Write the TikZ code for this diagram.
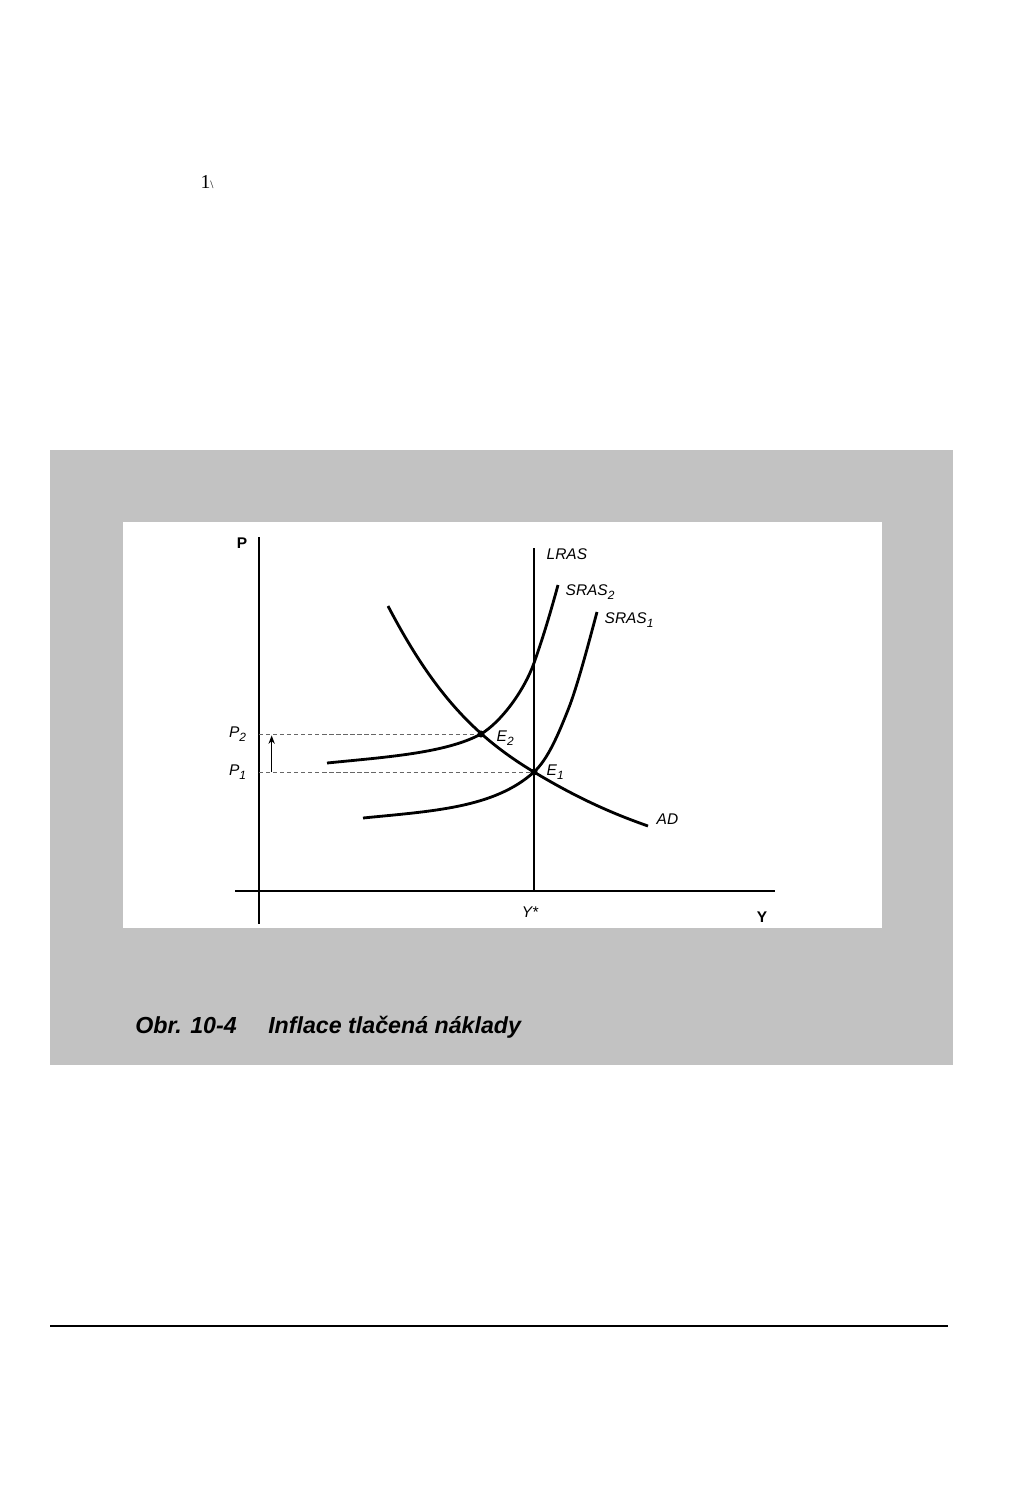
\documentclass[tikz,border=0pt]{standalone}
\usepackage{fontspec}
\setmainfont{Liberation Sans}
\newfontfamily\pagefont{Liberation Serif}
\usetikzlibrary{positioning,arrows.meta}
\newcommand{\lowsub}[1]{\raisebox{-0.55ex}{\fontsize{8.5}{9}\selectfont#1}}

\begin{document}
\begin{tikzpicture}[x=0.025cm,y=-0.025cm,node distance=0.2cm,
    curve/.style={line width=2pt},
    axis/.style={line width=0.9pt},
    guide/.style={densely dashed,line width=0.4pt,black!60},
    lbl/.style={font=\fontsize{11}{13}\selectfont\itshape,inner sep=1pt},
    axlbl/.style={font=\fontsize{11}{13}\selectfont\bfseries,inner sep=1pt},
    eqdot/.style={circle,fill,inner sep=0pt,minimum size=5pt}]
    \useasboundingbox (0,0) rectangle (1024,1489);

    % page marks
    \node[font=\pagefont\fontsize{14}{16}\selectfont,inner sep=0pt] (pgno) at (207,182) {1{\fontsize{8}{8}\selectfont\textbackslash}};
    \coordinate (rule-l) at (50,1326);
    \coordinate (rule-r) at (948,1326);
    \draw[line width=0.8pt] (rule-l) -- (rule-r);

    % shaded panel with white chart area
    \fill[black!24] (50,450) rectangle (953,1065);
    \fill[white] (123,522) rectangle (882,928);

    \coordinate (O) at (259,891);
    \coordinate (ytop) at (259,537);
    \coordinate (ybot) at (259,924);
    \coordinate (xl) at (235,891);
    \coordinate (xr) at (775,891);
    \coordinate (lras-top) at (534,548);
    \coordinate (ystar) at (534,891);
    \coordinate (E1) at (534,772);
    \coordinate (E2) at (481,734);
    \coordinate (ad-top) at (388,606);
    \coordinate (ad-end) at (648,826);
    \coordinate (s2-top) at (558,585);
    \coordinate (s2-knee) at (534,663);
    \coordinate (s2-end) at (327,763);
    \coordinate (s1-top) at (597,612);
    \coordinate (s1-knee) at (568,710);
    \coordinate (s1-end) at (363,818);

    \draw[axis] (ytop) -- (ybot);
    \draw[axis] (xl) -- (xr);
    \draw[curve] (lras-top) -- (ystar);

    % price guides
    \draw[guide] (E2 -| O) -- (E2);
    \draw[guide] (E1 -| O) -- (E1);
    \draw[-{Stealth[length=6pt,width=4.5pt]},line width=0.8pt] ([xshift=9]E1 -| O) -- ([xshift=9,yshift=-1]E2 -| O);

    % curves
    \draw[curve] (ad-top) .. controls (433,692) and (474,736) .. (E1)
                          .. controls (574,796) and (608,812) .. (ad-end);
    \draw[curve] (s2-end) .. controls (387,757) and (446,753) .. (E2)
                          .. controls (501,722) and (524,691) .. (s2-knee)
                          .. controls (544,635) and (552,607) .. (s2-top);
    \draw[curve] (s1-end) .. controls (433,811) and (494,808) .. (E1)
                          .. controls (548,759) and (558,735) .. (s1-knee)
                          .. controls (578,685) and (591,634) .. (s1-top);

    \node[eqdot] (e1dot) at (E1) {};
    \node[eqdot] (e2dot) at (E2) {};

    % labels
    \node[axlbl] (plab) at (242,543) {P};
    \node[axlbl] (ylab) at (762,917) {Y};
    \node[lbl] (ystarlab) at (530,912) {Y*};
    \node[lbl,anchor=west] (lraslab) at (545,554) {LRAS};
    \node[lbl,anchor=west] (s2lab) at (564,592) {SRAS\lowsub{2}};
    \node[lbl,anchor=west] (s1lab) at (603,620) {SRAS\lowsub{1}};
    \node[lbl,anchor=west] (e2lab) at (495,738) {E\lowsub{2}};
    \node[lbl,anchor=west] (e1lab) at (545,772) {E\lowsub{1}};
    \node[lbl,anchor=west] (adlab) at (655,819) {AD};
    \node[lbl,left=0.28cm of E2 -| O] (p2lab) {P\lowsub{2}};
    \node[lbl,left=0.28cm of E1 -| O] (p1lab) {P\lowsub{1}};

    \node[font=\fontsize{16.5}{18}\selectfont\bfseries\itshape,anchor=base west,inner sep=0pt] (fignum) at (135,1033) {Obr. 10-4};
    \node[font=\fontsize{16.5}{18}\selectfont\bfseries\itshape,anchor=base west,inner sep=0pt] (figtitle) at (268,1033) {Inflace tlačená náklady};
\end{tikzpicture}
\end{document}
